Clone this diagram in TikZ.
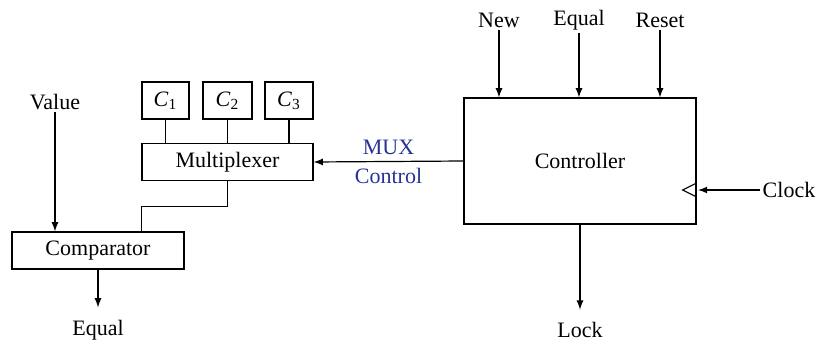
\documentclass[tikz,border=0pt]{standalone}
\usepackage{fontspec}
\setmainfont{Liberation Serif}
\definecolor{muxblue}{RGB}{40,50,150}
\newcommand{\creg}[1]{\textit{C}\textsubscript{#1}}
\begin{document}
\begin{tikzpicture}[x=0.5pt, y=-0.5pt, line width=0.6pt, >=latex,
  every node/.style={font=\fontsize{11}{13}\selectfont, inner sep=1pt},
  blk/.style={draw, minimum height=18.5pt}]
\useasboundingbox (0,0) rectangle (833,342);
\node[draw, minimum width=116pt, minimum height=63pt] (ctrl) at (580,161) {Controller};
\node[blk, minimum width=85.5pt] (mux) at (227.5,162) {Multiplexer};
\node[blk, minimum width=23.5pt] (c1) at (165.5,100.5) {\creg{1}};
\node[blk, minimum width=24.5pt] (c2) at (227.5,100.5) {\creg{2}};
\node[blk, minimum width=24pt] (c3) at (289,100.5) {\creg{3}};
\node[blk, minimum width=86pt] (cmp) at (98,250.5) {Comparator};

\node (value) at (55,102) {Value};
\node (eqout) at (98,330) {Equal};
\node (new) at (499,20) {New};
\node (eqin) at (579,20) {Equal};
\node (reset) at (660,20) {Reset};
\node (clock) at (789,190) {Clock};
\node (lock) at (580,330) {Lock};
\coordinate (clk) at (698,190);

\foreach \c in {c1,c2,c3}
  \draw (\c.south) -- (\c.south |- mux.north);
\draw (mux.south) -- ++(0,25) -| (cmp.north -| mux.west);
\draw[->] (value) -- (value |- cmp.north);
\draw[->] (cmp.south) -- ([yshift=5pt]eqout.north);
\draw[->] (ctrl.west) -- (mux.east)
  node[midway, above=2pt, muxblue] {MUX}
  node[midway, below=2pt, muxblue] {Control};
\foreach \s in {new,eqin,reset}
  \draw[->] (\s) -- (\s |- ctrl.north);
\draw (ctrl.east) ++(0,22) -- ++(-14,7) -- ++(14,7);
\draw[->] (clock.west) -- (clk);
\draw[->] (ctrl.south) -- ([yshift=5pt]lock.north);
\end{tikzpicture}
\end{document}
